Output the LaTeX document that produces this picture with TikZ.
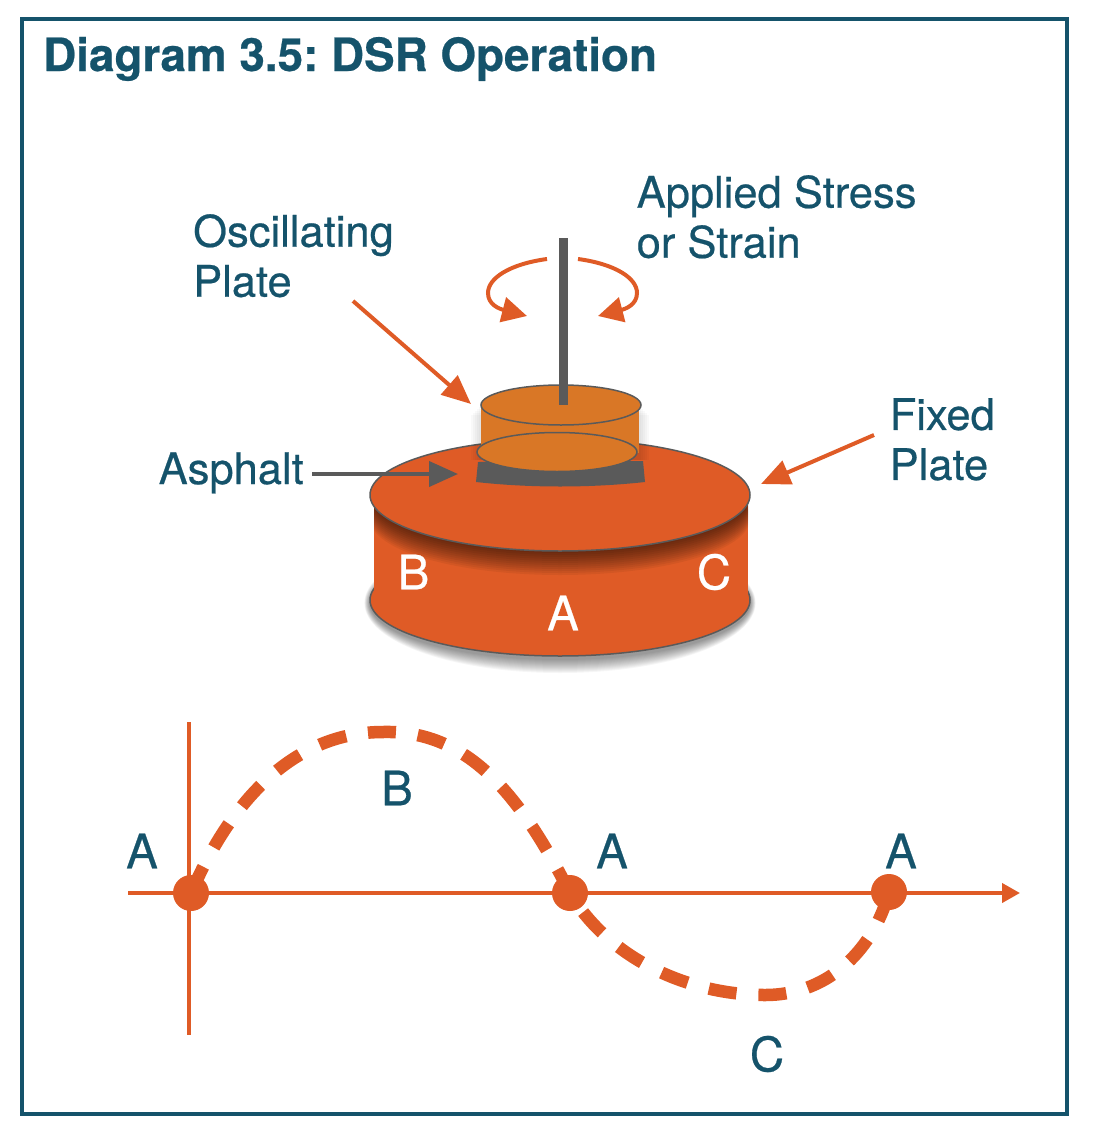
\documentclass[tikz,border=0pt]{standalone}
\usepackage{fontspec}
\setmainfont{TeX Gyre Heros}[RawFeature={embolden=0.5}]
\usetikzlibrary{arrows.meta}
\definecolor{tealtext}{HTML}{15536B}
\definecolor{rustfill}{HTML}{DF5B26}
\definecolor{tanfill}{HTML}{D97726}
\definecolor{slategray}{HTML}{5A5A5A}
\tikzset{
  label/.style = {text = tealtext, inner sep = 0, align = left, font = \fontsize{43.5}{50}\selectfont},
  letter/.style = {text = tealtext, inner sep = 0, font = \fontsize{47.5}{50}\selectfont},
  onplate/.style = {letter, text = white},
  pointer/.style = {draw = rustfill, line width = 4pt, -{Triangle[length = 29pt, width = 25pt]}},
  twist/.style = {pointer, -{Triangle[length = 25pt, width = 25pt]}},
  axisline/.style = {draw = rustfill, line width = 4pt},
  dot/.style = {circle, fill = rustfill, inner sep = 0, minimum size = 36pt},
  platerim/.style = {draw = slategray, line width = 1.5pt}
}
\begin{document}
\frenchspacing
\begin{tikzpicture}[x = 1pt, y = -1pt]
\useasboundingbox (0,0) rectangle (1097,1140);
\node[draw = tealtext, line width = 4pt, inner sep = 0, minimum width = 1045pt, minimum height = 1095pt] (frame) at (544.5,566.5){};
\node[anchor = base west, text = tealtext, inner sep = 0, font = \fontsize{45.8}{50}\selectfont\bfseries] (title) at (43,71){Diagram 3.5: DSR Operation};
% shadow under the fixed plate
\foreach \s in {1,2,...,14} \fill[black, opacity = 0.035] (560,603) ellipse [x radius = 190pt+\s*0.4pt, y radius = 56pt+\s*1pt];
% fixed plate
\draw[platerim, fill = rustfill] (560,600) ellipse [x radius = 190pt, y radius = 56pt];
\fill[rustfill] (374,495) rectangle (748,600);
\begin{scope}
\clip (374,495) rectangle (748,600);
\foreach \s in {2,4,...,24} \fill[black, opacity = 0.055] (560,495+\s) ellipse [x radius = 190pt, y radius = 56pt];
\end{scope}
\draw[platerim, fill = rustfill] (560,495) ellipse [x radius = 190pt, y radius = 56pt];
% shadow beside the oscillating plate
\foreach \s in {2,4,...,10} \fill[black, opacity = 0.025] (481-\s,405+\s) rectangle (639+\s,460);
% asphalt
\fill[slategray] (478,462) -- (476,482) .. controls (530,488) and (590,488) .. (645,482) -- (643,461) -- cycle;
% oscillating plate
\fill[tanfill] (481,405) rectangle (639,453);
\draw[platerim, fill = tanfill] (557,452) ellipse [x radius = 80pt, y radius = 19.5pt];
\draw[platerim, fill = tanfill] (561,405) ellipse [x radius = 80pt, y radius = 20pt];
\coordinate (shafttop) at (563,238);
\coordinate (shaftend) at (563,405);
\draw[slategray, line width = 9pt] (shafttop) -- (shaftend);
% twist arrows
\coordinate (leftfrom) at (547,259);
\coordinate (lefttip) at (527,316);
\coordinate (rightfrom) at (578,259);
\coordinate (righttip) at (598,316);
\draw[twist] (leftfrom) .. controls (510,264) and (488,278) .. (488,293) .. controls (488,305) and (500,309) .. (lefttip);
\draw[twist] (rightfrom) .. controls (615,264) and (637,278) .. (637,293) .. controls (637,305) and (625,309) .. (righttip);
% labels
\node[label, anchor = north west] (stresslabel) at (636.5,175){Applied Stress\\or Strain};
\node[label, anchor = north west] (oscillatinglabel) at (193,214){Oscillating\\Plate};
\node[label, anchor = north west] (fixedlabel) at (889.5,398){Fixed\\Plate};
\node[label, anchor = base west] (asphaltlabel) at (158.5,484){Asphalt};
\node[onplate] (plateb) at (413.5,572){B};
\node[onplate] (platec) at (714,572){C};
\node[onplate] (platea) at (563,613){A};
% pointers
\coordinate (oscillatingfrom) at (353,301);
\coordinate (oscillatingtip) at (471,404);
\coordinate (fixedfrom) at (874,435);
\coordinate (fixedtip) at (761,484);
\coordinate (asphaltfrom) at (312,474);
\coordinate (asphalttip) at (458,474);
\draw[pointer] (oscillatingfrom) -- (oscillatingtip);
\draw[pointer] (fixedfrom) -- (fixedtip);
\draw[pointer, draw = slategray] (asphaltfrom) -- (asphalttip);
% axes
\coordinate (axisleft) at (128,893);
\coordinate (axisright) at (1020,893);
\coordinate (axistop) at (189,722);
\coordinate (axisbottom) at (189,1035);
\draw[axisline, -{Triangle[length = 18pt, width = 19pt]}] (axisleft) -- (axisright);
\draw[axisline] (axistop) -- (axisbottom);
% wave
\node[dot] (dota) at (191,893){};
\node[dot] (dotb) at (570,893){};
\node[dot] (dotc) at (889,892){};
\draw[rustfill, line width = 12.5pt, dash pattern = on 28pt off 22pt, dash phase = 49pt] (dota.center) .. controls (238,785) and (305,732) .. (383,732) .. controls (465,730) and (518,790) .. (dotb.center) .. controls (610,960) and (690,995) .. (765,995) .. controls (832,995) and (875,945) .. (dotc.center);
\node[letter] (labela) at (142,851){A};
\node[letter] (labelb) at (397,788){B};
\node[letter] (labelc) at (612,851){A};
\node[letter] (labeld) at (901,851){A};
\node[letter] (labele) at (767,1054){C};
\end{tikzpicture}
\end{document}
